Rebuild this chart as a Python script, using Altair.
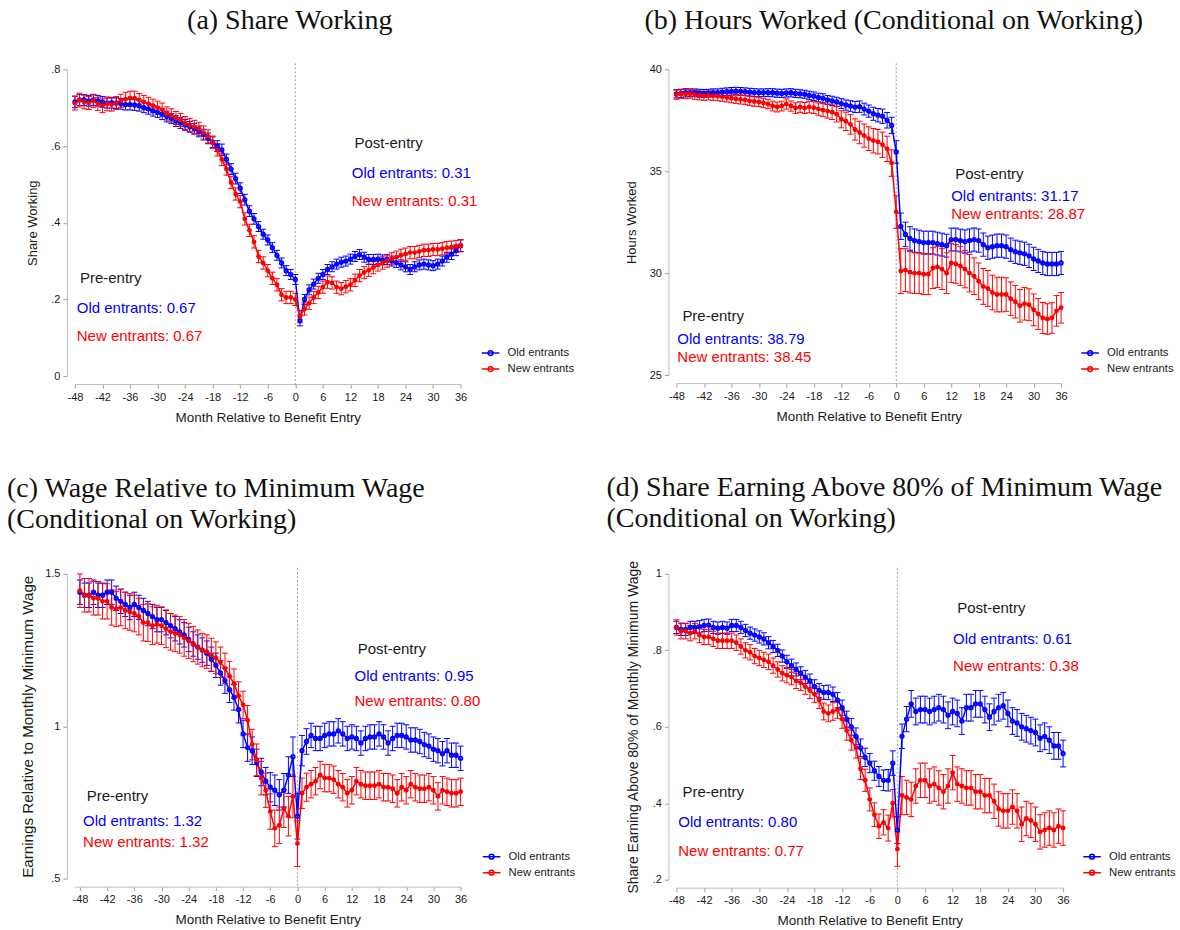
import altair as alt
import pandas as pd

MONTHS = list(range(-48, 37))
X_TICKS = list(range(-48, 37, 6))
SERIES = ["Old entrants", "New entrants"]
BLUE = "#0000ff"
RED = "#ff0000"
INK = "#1a1a1a"
SANS = "Liberation Sans"
SERIF = "Liberation Serif"

# ---------------- (a) Share working ----------------
a_old = [
    0.715, 0.720, 0.720, 0.718, 0.720, 0.718, 0.715, 0.712, 0.713, 0.712, 0.710, 0.708,
    0.708, 0.707, 0.705, 0.700, 0.697, 0.692, 0.688, 0.683, 0.677, 0.672, 0.665, 0.660,
    0.655, 0.650, 0.645, 0.638, 0.630, 0.620, 0.610, 0.600, 0.590, 0.565, 0.540, 0.515,
    0.490, 0.460, 0.430, 0.410, 0.390, 0.370, 0.355, 0.335, 0.315, 0.295, 0.275, 0.265,
    0.252, 0.145, 0.200, 0.225, 0.240, 0.255, 0.265, 0.278, 0.285, 0.292, 0.297, 0.300,
    0.305, 0.312, 0.317, 0.310, 0.304, 0.304, 0.305, 0.303, 0.304, 0.300, 0.296, 0.290,
    0.285, 0.278, 0.285, 0.290, 0.292, 0.290, 0.288, 0.292, 0.300, 0.310, 0.318, 0.328, 0.340,
]
a_old_ci = [
    0.015, 0.014, 0.014, 0.014, 0.014, 0.014, 0.014, 0.013, 0.014, 0.014, 0.014, 0.014,
    0.014, 0.014, 0.014, 0.013, 0.014, 0.014, 0.014, 0.014, 0.014, 0.013, 0.014, 0.014,
    0.014, 0.014, 0.014, 0.014, 0.014, 0.014, 0.014, 0.014, 0.015, 0.014, 0.014, 0.014,
    0.014, 0.014, 0.014, 0.014, 0.013, 0.013, 0.013, 0.013, 0.013, 0.013, 0.013, 0.013,
    0.013, 0.014, 0.013, 0.013, 0.013, 0.013, 0.013, 0.013, 0.013, 0.013, 0.013, 0.013,
    0.013, 0.013, 0.013, 0.013, 0.013, 0.013, 0.013, 0.013, 0.013, 0.013, 0.013, 0.013,
    0.013, 0.013, 0.013, 0.013, 0.013, 0.013, 0.013, 0.013, 0.013, 0.013, 0.014, 0.014, 0.015,
]
a_new = [
    0.712, 0.720, 0.715, 0.712, 0.718, 0.710, 0.705, 0.710, 0.708, 0.712, 0.718, 0.722,
    0.725, 0.725, 0.720, 0.715, 0.710, 0.705, 0.700, 0.695, 0.685, 0.680, 0.673, 0.668,
    0.660, 0.655, 0.650, 0.645, 0.635, 0.625, 0.610, 0.590, 0.565, 0.540, 0.505, 0.475,
    0.455, 0.410, 0.380, 0.350, 0.312, 0.295, 0.275, 0.255, 0.238, 0.212, 0.205, 0.205,
    0.200, 0.155, 0.175, 0.190, 0.205, 0.218, 0.232, 0.245, 0.243, 0.232, 0.228, 0.233,
    0.238, 0.250, 0.262, 0.270, 0.276, 0.283, 0.290, 0.295, 0.300, 0.306, 0.310, 0.315,
    0.318, 0.322, 0.322, 0.325, 0.328, 0.328, 0.330, 0.330, 0.332, 0.335, 0.336, 0.338, 0.340,
]
a_new_ci = [
    0.018, 0.018, 0.018, 0.017, 0.017, 0.017, 0.018, 0.018, 0.017, 0.017, 0.017, 0.018,
    0.018, 0.018, 0.017, 0.017, 0.017, 0.017, 0.017, 0.017, 0.017, 0.017, 0.017, 0.017,
    0.017, 0.017, 0.017, 0.017, 0.017, 0.017, 0.016, 0.016, 0.016, 0.016, 0.016, 0.016,
    0.016, 0.016, 0.016, 0.016, 0.016, 0.016, 0.016, 0.016, 0.016, 0.016, 0.016, 0.016,
    0.016, 0.016, 0.016, 0.016, 0.016, 0.016, 0.016, 0.016, 0.016, 0.016, 0.016, 0.016,
    0.016, 0.016, 0.016, 0.016, 0.016, 0.016, 0.016, 0.016, 0.016, 0.016, 0.016, 0.016,
    0.016, 0.016, 0.016, 0.016, 0.016, 0.016, 0.016, 0.016, 0.016, 0.016, 0.016, 0.016, 0.016,
]

# ---------------- (b) Hours worked ----------------
b_old = [
    38.80, 38.82, 38.85, 38.85, 38.85, 38.83, 38.82, 38.83, 38.85, 38.85, 38.88, 38.90,
    38.92, 38.93, 38.92, 38.90, 38.88, 38.86, 38.85, 38.85, 38.86, 38.85, 38.83, 38.82,
    38.84, 38.85, 38.82, 38.80, 38.78, 38.72, 38.68, 38.62, 38.58, 38.50, 38.45, 38.40,
    38.32, 38.25, 38.20, 38.15, 38.17, 38.05, 37.95, 37.82, 37.75, 37.70, 37.50, 37.25,
    35.95, 32.30, 31.90, 31.70, 31.60, 31.55, 31.50, 31.50, 31.50, 31.45, 31.40, 31.35,
    31.65, 31.65, 31.60, 31.55, 31.60, 31.65, 31.60, 31.40, 31.25, 31.30, 31.35, 31.35,
    31.30, 31.15, 31.05, 31.00, 30.95, 30.85, 30.70, 30.60, 30.50, 30.45, 30.45, 30.45, 30.50,
]
b_old_ci = [
    0.20, 0.20, 0.20, 0.19, 0.19, 0.19, 0.19, 0.19, 0.19, 0.19, 0.19, 0.19,
    0.19, 0.19, 0.19, 0.19, 0.19, 0.19, 0.19, 0.19, 0.19, 0.20, 0.20, 0.20,
    0.20, 0.20, 0.20, 0.20, 0.20, 0.21, 0.21, 0.21, 0.22, 0.22, 0.23, 0.23,
    0.24, 0.25, 0.26, 0.27, 0.28, 0.29, 0.30, 0.32, 0.33, 0.35, 0.38, 0.40,
    0.55, 0.65, 0.60, 0.58, 0.57, 0.56, 0.56, 0.56, 0.56, 0.56, 0.56, 0.56,
    0.56, 0.56, 0.56, 0.57, 0.57, 0.57, 0.57, 0.57, 0.57, 0.57, 0.57, 0.57,
    0.57, 0.57, 0.57, 0.57, 0.57, 0.57, 0.57, 0.57, 0.57, 0.57, 0.57, 0.57, 0.57,
]
b_new = [
    38.75, 38.80, 38.78, 38.80, 38.75, 38.72, 38.70, 38.72, 38.70, 38.68, 38.65, 38.62,
    38.58, 38.55, 38.52, 38.50, 38.45, 38.42, 38.40, 38.35, 38.30, 38.20, 38.15, 38.20,
    38.30, 38.20, 38.10, 38.15, 38.10, 38.15, 38.12, 38.05, 38.00, 37.95, 37.90, 37.80,
    37.55, 37.45, 37.30, 37.05, 36.90, 36.75, 36.60, 36.50, 36.45, 36.30, 36.10, 35.40,
    33.00, 30.10, 30.15, 30.05, 30.00, 30.00, 29.95, 29.95, 30.25, 30.30, 30.20, 30.00,
    30.50, 30.45, 30.35, 30.20, 30.00, 29.85, 29.60, 29.35, 29.25, 29.05, 28.95, 28.95,
    28.95, 28.75, 28.60, 28.40, 28.50, 28.45, 28.20, 28.00, 27.80, 27.75, 27.80, 28.15, 28.30,
]
b_new_ci = [
    0.22, 0.22, 0.22, 0.22, 0.22, 0.22, 0.22, 0.22, 0.22, 0.22, 0.22, 0.22,
    0.22, 0.22, 0.22, 0.22, 0.23, 0.23, 0.23, 0.23, 0.23, 0.24, 0.24, 0.24,
    0.25, 0.25, 0.26, 0.26, 0.27, 0.28, 0.29, 0.30, 0.32, 0.34, 0.36, 0.38,
    0.42, 0.45, 0.48, 0.52, 0.55, 0.57, 0.58, 0.60, 0.60, 0.62, 0.62, 0.65,
    0.80, 1.10, 1.05, 1.02, 1.00, 1.00, 1.00, 1.00, 1.00, 1.00, 1.00, 1.00,
    0.95, 0.95, 0.95, 0.92, 0.92, 0.90, 0.90, 0.88, 0.88, 0.85, 0.85, 0.85,
    0.82, 0.82, 0.80, 0.80, 0.80, 0.78, 0.78, 0.76, 0.76, 0.75, 0.75, 0.75, 0.75,
]

# ---------------- (c) Wage relative to minimum wage ----------------
c_old = [
    1.440, 1.430, 1.430, 1.440, 1.430, 1.430, 1.440, 1.440, 1.420, 1.410, 1.400, 1.390,
    1.400, 1.390, 1.380, 1.370, 1.360, 1.350, 1.350, 1.340, 1.330, 1.320, 1.310, 1.300,
    1.285, 1.270, 1.260, 1.250, 1.240, 1.220, 1.200, 1.175, 1.150, 1.120, 1.095, 1.055,
    0.975, 0.930, 0.920, 0.880, 0.850, 0.820, 0.800, 0.790, 0.775, 0.790, 0.840, 0.900,
    0.705, 0.920, 0.950, 0.970, 0.960, 0.960, 0.970, 0.975, 0.975, 0.985, 0.975, 0.960,
    0.965, 0.960, 0.945, 0.960, 0.965, 0.965, 0.975, 0.965, 0.945, 0.960, 0.970, 0.970,
    0.965, 0.955, 0.955, 0.950, 0.940, 0.935, 0.925, 0.920, 0.910, 0.920, 0.905, 0.905, 0.895,
]
c_old_ci = [
    0.040, 0.040, 0.040, 0.040, 0.040, 0.040, 0.040, 0.040, 0.040, 0.040, 0.040, 0.040,
    0.040, 0.040, 0.040, 0.040, 0.040, 0.040, 0.040, 0.040, 0.040, 0.040, 0.040, 0.040,
    0.040, 0.040, 0.040, 0.040, 0.040, 0.040, 0.040, 0.040, 0.042, 0.042, 0.042, 0.044,
    0.045, 0.045, 0.045, 0.045, 0.045, 0.045, 0.048, 0.050, 0.050, 0.055, 0.060, 0.065,
    0.075, 0.050, 0.042, 0.040, 0.040, 0.040, 0.040, 0.040, 0.040, 0.040, 0.040, 0.040,
    0.040, 0.040, 0.040, 0.040, 0.040, 0.040, 0.040, 0.040, 0.040, 0.040, 0.040, 0.040,
    0.040, 0.040, 0.040, 0.040, 0.040, 0.040, 0.040, 0.040, 0.040, 0.040, 0.040, 0.040, 0.040,
]
c_new = [
    1.445, 1.430, 1.430, 1.420, 1.420, 1.410, 1.410, 1.390, 1.385, 1.390, 1.380, 1.375,
    1.370, 1.360, 1.340, 1.340, 1.330, 1.335, 1.330, 1.320, 1.310, 1.305, 1.300, 1.290,
    1.280, 1.270, 1.260, 1.250, 1.245, 1.235, 1.225, 1.210, 1.190, 1.165, 1.140, 1.100,
    1.070, 1.020, 0.940, 0.890, 0.830, 0.790, 0.720, 0.665, 0.675, 0.730, 0.705, 0.770,
    0.615, 0.780, 0.800, 0.810, 0.820, 0.840, 0.830, 0.830, 0.825, 0.810, 0.800, 0.780,
    0.790, 0.820, 0.810, 0.805, 0.805, 0.805, 0.810, 0.800, 0.800, 0.795, 0.780, 0.800,
    0.790, 0.810, 0.800, 0.795, 0.795, 0.800, 0.790, 0.770, 0.790, 0.785, 0.780, 0.780, 0.785,
]
c_new_ci = [
    0.055, 0.055, 0.055, 0.055, 0.055, 0.058, 0.058, 0.058, 0.058, 0.060, 0.060, 0.060,
    0.060, 0.060, 0.060, 0.062, 0.062, 0.062, 0.062, 0.062, 0.060, 0.060, 0.060, 0.060,
    0.058, 0.058, 0.056, 0.055, 0.055, 0.054, 0.052, 0.050, 0.050, 0.048, 0.048, 0.046,
    0.045, 0.048, 0.050, 0.052, 0.055, 0.056, 0.058, 0.060, 0.060, 0.062, 0.065, 0.070,
    0.075, 0.050, 0.046, 0.045, 0.045, 0.045, 0.045, 0.045, 0.045, 0.045, 0.045, 0.045,
    0.045, 0.045, 0.045, 0.045, 0.045, 0.045, 0.045, 0.045, 0.045, 0.045, 0.045, 0.045,
    0.045, 0.045, 0.045, 0.045, 0.045, 0.045, 0.045, 0.045, 0.045, 0.045, 0.045, 0.045, 0.045,
]

# ---------------- (d) Share earning above 80% of minimum wage ----------------
d_old = [
    0.860, 0.855, 0.855, 0.860, 0.860, 0.862, 0.865, 0.866, 0.860, 0.858, 0.860, 0.858,
    0.865, 0.865, 0.860, 0.852, 0.845, 0.840, 0.835, 0.830, 0.820, 0.810, 0.800, 0.785,
    0.770, 0.760, 0.750, 0.740, 0.730, 0.720, 0.705, 0.695, 0.690, 0.690, 0.685, 0.670,
    0.650, 0.620, 0.600, 0.575, 0.545, 0.520, 0.505, 0.485, 0.470, 0.460, 0.460, 0.505,
    0.330, 0.575, 0.620, 0.660, 0.640, 0.645, 0.645, 0.640, 0.645, 0.650, 0.645, 0.630,
    0.640, 0.635, 0.615, 0.650, 0.650, 0.660, 0.660, 0.645, 0.625, 0.640, 0.650, 0.655,
    0.635, 0.615, 0.610, 0.600, 0.595, 0.590, 0.585, 0.570, 0.575, 0.565, 0.550, 0.550, 0.530,
]
d_old_ci = [
    0.016, 0.016, 0.016, 0.016, 0.016, 0.016, 0.016, 0.016, 0.016, 0.016, 0.016, 0.016,
    0.016, 0.016, 0.016, 0.016, 0.016, 0.016, 0.016, 0.016, 0.016, 0.016, 0.016, 0.016,
    0.017, 0.017, 0.017, 0.017, 0.017, 0.018, 0.018, 0.018, 0.018, 0.019, 0.019, 0.020,
    0.020, 0.021, 0.022, 0.022, 0.023, 0.024, 0.025, 0.025, 0.026, 0.027, 0.028, 0.032,
    0.035, 0.032, 0.033, 0.035, 0.035, 0.035, 0.035, 0.035, 0.035, 0.035, 0.035, 0.035,
    0.035, 0.035, 0.035, 0.035, 0.035, 0.035, 0.035, 0.035, 0.035, 0.035, 0.035, 0.035,
    0.035, 0.035, 0.035, 0.035, 0.035, 0.035, 0.035, 0.035, 0.035, 0.035, 0.035, 0.035, 0.035,
]
d_new = [
    0.860, 0.850, 0.850, 0.845, 0.850, 0.840, 0.835, 0.835, 0.830, 0.825, 0.825, 0.825,
    0.825, 0.820, 0.810, 0.800, 0.795, 0.785, 0.780, 0.775, 0.770, 0.760, 0.750, 0.740,
    0.735, 0.730, 0.720, 0.715, 0.705, 0.695, 0.685, 0.670, 0.640, 0.635, 0.640, 0.645,
    0.620, 0.590, 0.565, 0.545, 0.490, 0.460, 0.410, 0.370, 0.340, 0.350, 0.335, 0.400,
    0.280, 0.420, 0.415, 0.410, 0.445, 0.460, 0.460, 0.445, 0.450, 0.440, 0.430, 0.445,
    0.480, 0.450, 0.445, 0.440, 0.440, 0.430, 0.430, 0.420, 0.420, 0.405, 0.385, 0.380,
    0.380, 0.390, 0.380, 0.345, 0.360, 0.355, 0.345, 0.325, 0.330, 0.335, 0.330, 0.340, 0.335,
]
d_new_ci = [
    0.020, 0.020, 0.020, 0.020, 0.020, 0.020, 0.020, 0.020, 0.020, 0.020, 0.020, 0.020,
    0.020, 0.020, 0.020, 0.020, 0.020, 0.020, 0.020, 0.020, 0.020, 0.020, 0.020, 0.020,
    0.020, 0.020, 0.020, 0.020, 0.020, 0.021, 0.021, 0.022, 0.022, 0.022, 0.023, 0.023,
    0.024, 0.025, 0.026, 0.027, 0.028, 0.029, 0.030, 0.031, 0.032, 0.033, 0.034, 0.036,
    0.045, 0.050, 0.045, 0.045, 0.045, 0.045, 0.045, 0.045, 0.045, 0.045, 0.045, 0.045,
    0.045, 0.045, 0.045, 0.045, 0.045, 0.045, 0.045, 0.045, 0.045, 0.045, 0.045, 0.045,
    0.045, 0.045, 0.045, 0.045, 0.045, 0.045, 0.045, 0.045, 0.045, 0.045, 0.045, 0.045, 0.045,
]

# Summary annotations: (month, value) anchor of each text line
a_notes = {
    "post": (12.9, 0.607), "post_old": (12.3, 0.529), "post_new": (12.3, 0.456),
    "pre": (-46.9, 0.255), "pre_old": (-47.6, 0.177), "pre_new": (-47.6, 0.104),
}
a_means = ["0.31", "0.31", "0.67", "0.67"]
b_notes = {
    "post": (12.9, 34.85), "post_old": (12.0, 33.77), "post_new": (12.0, 32.90),
    "pre": (-46.7, 27.9), "pre_old": (-47.8, 26.76), "pre_new": (-47.8, 25.88),
}
b_means = ["31.17", "28.87", "38.79", "38.45"]
c_notes = {
    "post": (13.3, 1.253), "post_old": (12.6, 1.164), "post_new": (12.6, 1.082),
    "pre": (-46.5, 0.770), "pre_old": (-47.3, 0.690), "pre_new": (-47.3, 0.620),
}
c_means = ["0.95", "0.80", "1.32", "1.32"]
d_notes = {
    "post": (13.0, 0.910), "post_old": (12.1, 0.830), "post_new": (12.1, 0.758),
    "pre": (-46.7, 0.429), "pre_old": (-47.6, 0.351), "pre_new": (-47.6, 0.275),
}
d_means = ["0.61", "0.38", "0.80", "0.77"]

Y_LABELS = ("datum.value == 0 ? '0' : (datum.value < 1 ? "
            "replace(format(datum.value, '.1f'), '0.', '.') : format(datum.value, '~g'))")
LEGEND_SYMBOL = "M-1.1,0H1.1M-0.3,0A0.3,0.3,0,1,1,0.3,0A0.3,0.3,0,1,1,-0.3,0Z"


def frame(values, ci, name):
    assert len(values) == len(MONTHS) and len(ci) == len(MONTHS)
    return pd.DataFrame({
        "month": MONTHS,
        "series": name,
        "mean": values,
        "lo": [v - c for v, c in zip(values, ci)],
        "hi": [v + c for v, c in zip(values, ci)],
    })


def panel(p):
    old = frame(p["old"], p["old_ci"], SERIES[0])
    new = frame(p["new"], p["new_ci"], SERIES[1])
    both = pd.concat([old, new], ignore_index=True)

    xs = alt.Scale(domain=p["xdom"], nice=False, zero=False)
    ys = alt.Scale(domain=p["ydom"], nice=False, zero=False)
    xax = alt.Axis(values=X_TICKS, title="Month Relative to Benefit Entry",
                   labelExpr="'' + datum.value", labelFlush=False, labelOverlap=False,
                   titlePadding=8, titleFontSize=13.5)
    yax = alt.Axis(values=p["yticks"], title=p["ytitle"], labelExpr=Y_LABELS,
                   labelFlush=False, labelOverlap=False, titlePadding=p["ytpad"],
                   titleFontSize=p["ytsize"])

    def X(f):
        return alt.X(f, type="quantitative", scale=xs, axis=xax)

    def Y(f):
        return alt.Y(f, type="quantitative", scale=ys, axis=yax)

    zero_line = alt.Chart(pd.DataFrame({"month": [0]})).mark_rule(
        color="#a0a0a0", strokeWidth=1, strokeDash=[2, 2]
    ).encode(x=X("month"), y=alt.value(-6), y2=alt.value(p["h"] + 9))

    layers = [zero_line]
    for df, col in ((old, BLUE), (new, RED)):
        base = alt.Chart(df)
        layers.append(base.mark_rule(color=col, strokeWidth=1).encode(
            x=X("month"), y=Y("lo"), y2=alt.Y2("hi")))
        for end in ("lo", "hi"):
            layers.append(base.mark_tick(color=col, orient="horizontal", size=6,
                                         thickness=1, opacity=1).encode(x=X("month"), y=Y(end)))

    layers.append(alt.Chart(both).mark_line(strokeWidth=1.5).encode(
        x=X("month"), y=Y("mean"),
        color=alt.Color("series:N", scale=alt.Scale(domain=SERIES, range=[BLUE, RED]),
                        legend=alt.Legend(
                            orient="none", legendX=p["legend"][0], legendY=p["legend"][1],
                            title=None, symbolType=LEGEND_SYMBOL, symbolSize=256,
                            symbolStrokeWidth=1.5, labelFont=SANS, labelFontSize=11.3,
                            labelColor=INK, labelOffset=8, rowPadding=1, padding=0)),
    ))
    layers.append(alt.Chart(old).mark_point(shape="circle", filled=False, size=13,
                                            strokeWidth=1.7, color=BLUE, opacity=1).encode(
        x=X("month"), y=Y("mean")))
    layers.append(alt.Chart(new).mark_circle(size=24, color=RED, opacity=1).encode(
        x=X("month"), y=Y("mean")))

    n = p["notes"]
    m = p["means"]
    groups = [
        (INK, [("post", "Post-entry"), ("pre", "Pre-entry")]),
        (BLUE, [("post_old", "Old entrants: " + m[0]), ("pre_old", "Old entrants: " + m[2])]),
        (RED, [("post_new", "New entrants: " + m[1]), ("pre_new", "New entrants: " + m[3])]),
    ]
    for col, items in groups:
        tdf = pd.DataFrame({
            "month": [n[k][0] for k, _ in items],
            "val": [n[k][1] for k, _ in items],
            "label": [t for _, t in items],
        })
        layers.append(alt.Chart(tdf).mark_text(
            align="left", baseline="middle", font=SANS, fontSize=15, color=col
        ).encode(x=X("month"), y=Y("val"), text="label:N"))

    return alt.layer(*layers).properties(
        width=p["w"], height=p["h"],
        title=alt.TitleParams(**p["title"]),
    )


TITLE_STYLE = dict(font=SERIF, fontSize=28, fontWeight="normal", color="#111111",
                   frame="group")

pa = panel(dict(old=a_old, old_ci=a_old_ci, new=a_new, new_ci=a_new_ci,
                xdom=[-48, 36], ydom=[0, 0.8], yticks=[0, 0.2, 0.4, 0.6, 0.8],
                ytitle="Share Working", ytsize=13, ytpad=11, w=386, h=307,
                legend=(407, 275), notes=a_notes, means=a_means,
                title=dict(text="(a) Share Working", anchor="middle", dx=22, offset=28,
                           **TITLE_STYLE)))
pb = panel(dict(old=b_old, old_ci=b_old_ci, new=b_new, new_ci=b_new_ci,
                xdom=[-48, 36], ydom=[25, 40], yticks=[25, 30, 35, 40],
                ytitle="Hours Worked", ytsize=13, ytpad=11, w=385, h=306,
                legend=(405, 275), notes=b_notes, means=b_means,
                title=dict(text="(b) Hours Worked (Conditional on Working)", anchor="middle",
                           dx=25, offset=28, **TITLE_STYLE)))
pc = panel(dict(old=c_old, old_ci=c_old_ci, new=c_new, new_ci=c_new_ci,
                xdom=[-49.1, 36], ydom=[0.5, 1.5], yticks=[0.5, 1, 1.5],
                ytitle="Earnings Relative to Monthly Minimum Wage", ytsize=15.2, ytpad=9,
                w=386, h=305, legend=(408, 274), notes=c_notes, means=c_means,
                title=dict(text=["(c) Wage Relative to Minimum Wage", "(Conditional on Working)"],
                           anchor="start", dx=-68, offset=33, lineHeight=31, **TITLE_STYLE)))
pd_ = panel(dict(old=d_old, old_ci=d_old_ci, new=d_new, new_ci=d_new_ci,
                 xdom=[-48, 36], ydom=[0.2, 1.0], yticks=[0.2, 0.4, 0.6, 0.8, 1.0],
                 ytitle="Share Earning Above 80% of Monthly Minimum Wage", ytsize=14, ytpad=12,
                 w=387, h=306, legend=(407, 274), notes=d_notes, means=d_means,
                 title=dict(text=["(d) Share Earning Above 80% of Minimum Wage",
                                  "(Conditional on Working)"],
                            anchor="start", dx=-70, offset=27, lineHeight=31, **TITLE_STYLE)))

chart = alt.concat(
    pa, pb, pc, pd_, columns=2, spacing={"row": 198, "column": 216}, bounds="flush"
).resolve_scale(
    color="independent"
).properties(
    padding={"left": 7, "top": 6, "right": 4, "bottom": 2},
    background="white",
).configure_view(stroke=None).configure_axis(
    grid=False, domainColor="#bdbdbd", domainWidth=1, tickColor="#9d9d9d", tickSize=4,
    tickWidth=1, offset=8, labelPadding=3, labelFont=SANS, labelFontSize=11,
    labelColor=INK, titleFont=SANS, titleFontSize=13, titleFontWeight="normal",
    titleColor=INK,
)

chart.save("out.html", embed_options={"renderer": "svg", "actions": False})
